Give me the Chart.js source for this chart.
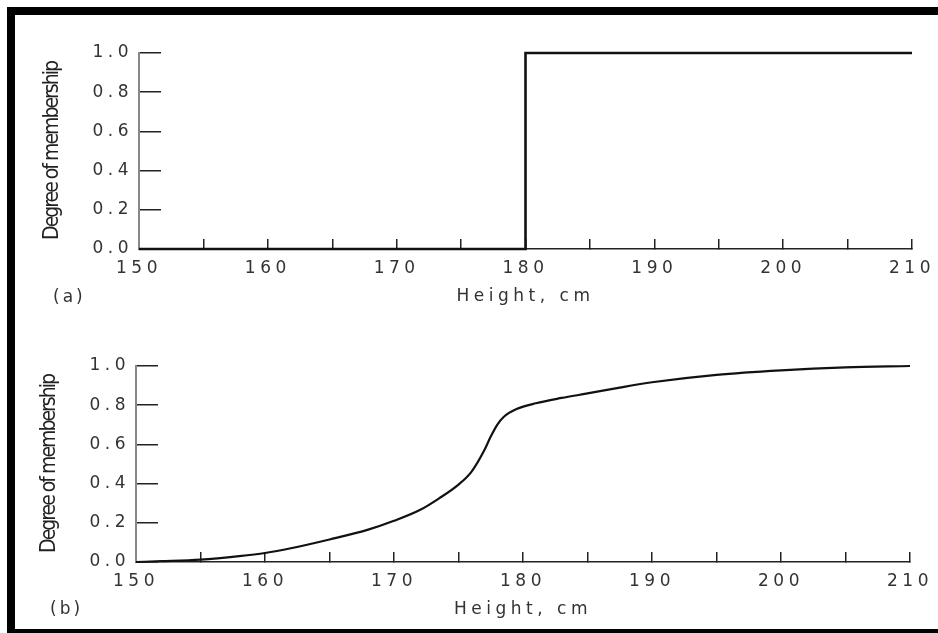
<!DOCTYPE html>
<html>
<head>
<meta charset="utf-8">
<script src="https://cdn.jsdelivr.net/npm/chart.js@4/dist/chart.umd.min.js"></script>
<style>
  html, body { margin: 0; padding: 0; background: #fff; overflow: hidden; }
  body { width: 938px; height: 633px; position: relative; }
  #frame {
    position: absolute; left: 7px; top: 7px; width: 1000px; height: 614px;
    border-left: 8px solid #000; border-top: 8px solid #000; border-bottom: 4px solid #000;
  }
  .panel { position: absolute; left: 0; width: 938px; height: 316px; }
  .tag {
    position: absolute; font: 17px "DejaVu Sans", sans-serif; letter-spacing: 3px;
    color: #333; line-height: 20px;
  }
</style>
</head>
<body>
<div id="frame"></div>
<canvas id="crispChart" class="panel" style="top:0" width="938" height="316"></canvas>
<canvas id="fuzzyChart" class="panel" style="top:313px" width="938" height="316"></canvas>
<div class="tag" style="left:53px; top:286px">(a)</div>
<div class="tag" style="left:50px; top:598px">(b)</div>
<script>
// (a) crisp set: membership jumps at 180 cm
const crispX = [150, 180, 180, 210];
const crispY = [0, 0, 1, 1];

// (b) fuzzy set: smooth S-shaped membership curve
const fuzzyX = [150, 152, 155, 158, 160, 162, 165, 168, 170, 172, 173.5, 175, 176, 177, 177.5, 178, 178.5, 179.5, 181, 183, 185, 187.5, 190, 195, 200, 205, 210];
const fuzzyY = [0, 0.004, 0.012, 0.03, 0.046, 0.07, 0.115, 0.165, 0.21, 0.265, 0.325, 0.395, 0.46, 0.57, 0.64, 0.70, 0.74, 0.78, 0.81, 0.837, 0.86, 0.89, 0.917, 0.955, 0.978, 0.993, 1.0];

const xLabel = 'Height, cm';
const yLabel = 'Degree of membership';
const xTickStep = 5;
const yTickStep = 0.2;

const SPACING = '4.5px';
const tickFont = { family: '"DejaVu Sans", sans-serif', size: 17 };

// wide-spaced tick text, but keep the rotated y title condensed
const spacingPlugin = {
    id: 'spacing',
    afterLayout(chart) {
        const sc = chart.scales.y;
        if (!sc._plainTitle) {
            const orig = sc.drawTitle;
            sc.drawTitle = function () {
                const prev = this.ctx.letterSpacing;
                this.ctx.letterSpacing = '-2px';
                orig.call(this);
                this.ctx.letterSpacing = prev;
            };
            sc._plainTitle = true;
        }
    },
    beforeDraw(chart) { chart.ctx.letterSpacing = SPACING; },
    afterDraw(chart) { chart.ctx.letterSpacing = '0px'; }
};

function makeChart(id, xs, ys, smooth, padLeft, padRight) {
    const ctx = document.getElementById(id).getContext('2d');
    return new Chart(ctx, {
        type: 'line',
        data: {
            datasets: [{
                data: xs.map((x, i) => ({ x: x, y: ys[i] })),
                borderColor: '#111',
                borderWidth: smooth ? 2.2 : 2.6,
                pointRadius: 0,
                fill: false,
                cubicInterpolationMode: smooth ? 'monotone' : 'default',
                tension: 0,
                clip: 6
            }]
        },
        options: {
            responsive: false,
            animation: false,
            layout: { padding: { top: 53, right: padRight, bottom: 9, left: padLeft } },
            plugins: { legend: { display: false }, tooltip: { enabled: false } },
            scales: {
                x: {
                    type: 'linear',
                    min: 150,
                    max: 210,
                    afterFit: (s) => { s.height = 58; s.paddingLeft = 0; s.paddingRight = 0; },
                    border: { color: '#222', width: 1.5 },
                    grid: { drawOnChartArea: false, tickLength: -10, color: '#222', lineWidth: 1.5 },
                    ticks: {
                        stepSize: xTickStep,
                        padding: 19,
                        maxRotation: 0,
                        autoSkip: false,
                        color: '#333',
                        font: tickFont,
                        callback: (v) => (v % 10 === 0 ? String(v) : '')
                    },
                    title: { display: true, text: xLabel, color: '#333', font: tickFont, padding: 0 }
                },
                y: {
                    min: 0,
                    max: 1,
                    afterFit: (s) => { s.width = 99; },
                    border: { color: '#888', width: 2 },
                    grid: { drawOnChartArea: false, tickLength: -22, color: '#222', lineWidth: 1.5 },
                    ticks: {
                        stepSize: yTickStep,
                        padding: 28,
                        color: '#333',
                        font: tickFont,
                        callback: (v) => v.toFixed(1)
                    },
                    title: {
                        display: true,
                        text: yLabel,
                        color: '#222',
                        padding: 0,
                        font: { family: '"Liberation Sans Narrow", "DejaVu Sans Condensed", sans-serif', size: 21 }
                    }
                }
            }
        },
        plugins: [spacingPlugin]
    });
}

const crispChart = makeChart('crispChart', crispX, crispY, false, 40, 26);
const fuzzyChart = makeChart('fuzzyChart', fuzzyX, fuzzyY, true, 37, 28);
crispChart.draw();
fuzzyChart.draw();
</script>
</body>
</html>
